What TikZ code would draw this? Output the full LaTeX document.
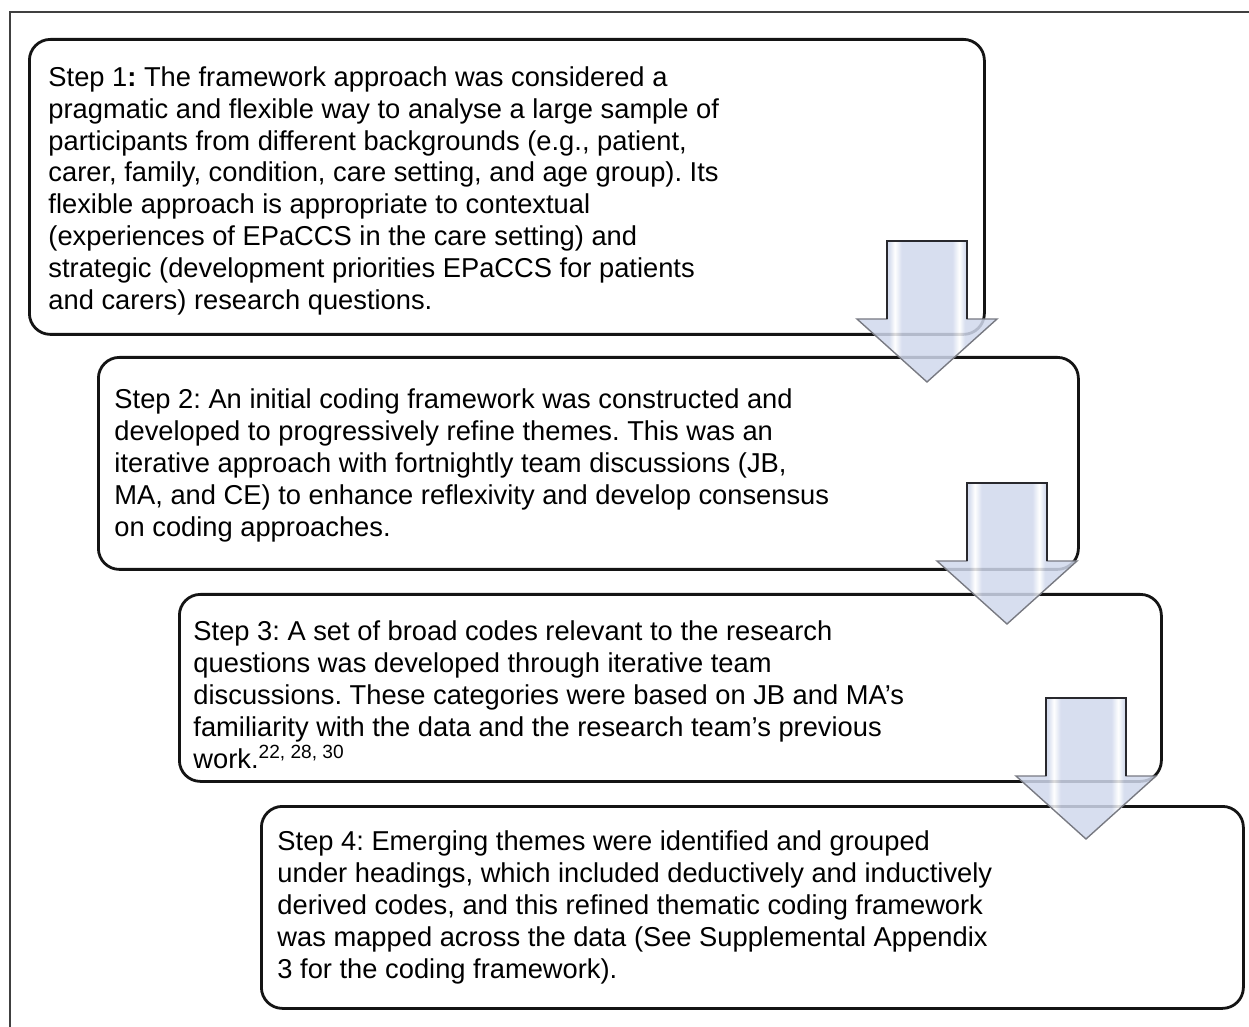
\documentclass[tikz,border=0pt]{standalone}
\usepackage{fontspec}
\setmainfont{Liberation Sans}
\usepackage{xcolor}
\usepackage{tikz}
\usetikzlibrary{positioning}
\definecolor{linhaCaixa}{RGB}{20,20,20}
\definecolor{setaAzul}{RGB}{208,216,236}
\definecolor{setaBorda}{RGB}{120,122,130}
\definecolor{setaHaste}{RGB}{40,40,45}
\pgfdeclarehorizontalshading{setaBrilho}{100bp}{color(0bp)=(setaAzul); color(36.5bp)=(setaAzul);
    color(38.5bp)=(white); color(41bp)=(setaAzul); color(59bp)=(setaAzul); color(61.5bp)=(white);
    color(63.5bp)=(setaAzul); color(100bp)=(setaAzul)}
\newcommand{\pxu}{0.4286pt}

\begin{document}
\frenchspacing
\begin{tikzpicture}[
    x=\pxu, y=-\pxu,
    stepbox/.style={draw=linhaCaixa, line width=1.2pt, rounded corners=9pt, inner sep=0pt, anchor=north west},
    steptext/.style={anchor=west, align=left, inner sep=0pt, font=\fontsize{11.7pt}{13.7pt}\selectfont},
    steparrow/.style={draw=setaBorda, line width=0.6pt, shading=setaBrilho, fill opacity=0.85, line join=miter},
    arrowshaft/.style={draw=setaHaste, line width=0.8pt},
    frame/.style={draw=black!75, line width=0.7pt}
]
    \useasboundingbox (0,0) rectangle (1249,1027);

    % Moldura
    \draw[frame] (1249,12) -- (10,12) -- (10,1027);

    % Caixas
    \node[stepbox, minimum width=955*\pxu, minimum height=295*\pxu] (box1) at (28,38) {};
    \node[stepbox, minimum width=980*\pxu, minimum height=212*\pxu] (box2) at (97,356) {};
    \node[stepbox, minimum width=982*\pxu, minimum height=187*\pxu] (box3) at (178,593) {};
    \node[stepbox, minimum width=982*\pxu, minimum height=202*\pxu] (box4) at (260,805) {};

    % Textos
    \node[steptext] (text1) at ([shift={(20,4)}]box1.west) {Step 1\textbf{:} The framework approach was considered a\\
        pragmatic and flexible way to analyse a large sample of\\
        participants from different backgrounds (e.g., patient,\\
        carer, family, condition, care setting, and age group). Its\\
        flexible approach is appropriate to contextual\\
        (experiences of EPaCCS in the care setting) and\\
        strategic (development priorities EPaCCS for patients\\
        and carers) research questions.};
    \node[steptext] (text2) at ([shift={(17,2)}]box2.west) {Step 2: An initial coding framework was constructed and\\
        developed to progressively refine themes. This was an\\
        iterative approach with fortnightly team discussions (JB,\\
        MA, and CE) to enhance reflexivity and develop consensus\\
        on coding approaches.};
    \node[steptext] (text3) at ([shift={(15,7)}]box3.west) {Step 3: A set of broad codes relevant to the research\\
        questions was developed through iterative team\\
        discussions. These categories were based on JB and MA’s\\
        familiarity with the data and the research team’s previous\\
        work.\textsuperscript{22, 28, 30}};
    \node[steptext] (text4) at ([shift={(17,0)}]box4.west) {Step 4: Emerging themes were identified and grouped\\
        under headings, which included deductively and inductively\\
        derived codes, and this refined thematic coding framework\\
        was mapped across the data (See Supplemental Appendix\\
        3 for the coding framework).};

    % Setas entre as etapas
    \foreach \x/\y [count=\i] in {927/241, 1007/483, 1086/698} {
        \coordinate (arrow\i) at (\x,\y);
        \draw[steparrow] (arrow\i) ++(-40,0) -- ++(80,0) -- ++(0,78) -- ++(30,0)
            -- ++(-70,63) -- ++(-70,-63) -- ++(30,0) -- cycle;
        \draw[arrowshaft] (arrow\i) ++(-40,78) -- ++(0,-78) -- ++(80,0) -- ++(0,78);
    }
\end{tikzpicture}
\end{document}
